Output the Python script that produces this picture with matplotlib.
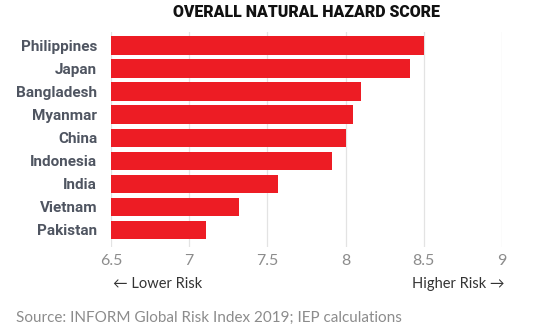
import matplotlib
matplotlib.use('Agg')
import matplotlib.pyplot as plt

# data
countries = ['Philippines', 'Japan', 'Bangladesh', 'Myanmar', 'China',
             'Indonesia', 'India', 'Vietnam', 'Pakistan']
scores = [8.5, 8.41, 8.1, 8.05, 8.0, 7.91, 7.57, 7.32, 7.11]
xticks = [6.5, 7, 7.5, 8, 8.5, 9]
xtick_labels = ['6.5', '7', '7.5', '8', '8.5', '9']

fig = plt.figure(figsize=(5.4, 3.33), dpi=100)
ax = fig.add_axes([0.2056, 0.2583, 0.724, 0.6456])

pos = list(range(len(countries)))
ax.barh(pos, [s - 6.5 for s in scores], left=6.5, height=0.8,
        color='#ed1c24', zorder=3)

ax.set_xlim(6.5, 9)
ax.set_ylim(len(countries) - 1 + 0.737, -0.585)
ax.set_xticks(xticks)
ax.set_xticklabels(xtick_labels, fontsize=11.5, color='#8c8c8c', family='Lato')
ax.set_yticks(pos)
ax.set_yticklabels(countries, fontsize=11, fontweight='bold', color='#4f5561',
                   family='Roboto')
ax.tick_params(axis='x', length=0, pad=5)
ax.tick_params(axis='y', length=0, pad=10)
ax.grid(axis='x', color='#e3e3e3', linewidth=0.9, zorder=0)
for s in ax.spines.values():
    s.set_visible(False)

fig.text(0.5667, 0.965, 'OVERALL NATURAL HAZARD SCORE', ha='center', va='center',
         fontsize=11.4, fontweight='black', color='#111111', family='Roboto')
fig.text(0.209, 0.147, '\u2190 Lower Risk', ha='left', va='center',
         fontsize=10.5, color='#333333', family=['Lato', 'DejaVu Sans'])
fig.text(0.935, 0.147, 'Higher Risk \u2192', ha='right', va='center',
         fontsize=10.5, color='#333333', family=['Lato', 'DejaVu Sans'])
fig.text(0.03, 0.045, 'Source: INFORM Global Risk Index 2019; IEP calculations',
         ha='left', va='center', fontsize=11, color='#8c8c8c', family='Lato')

fig.savefig('out.png', dpi=100)
